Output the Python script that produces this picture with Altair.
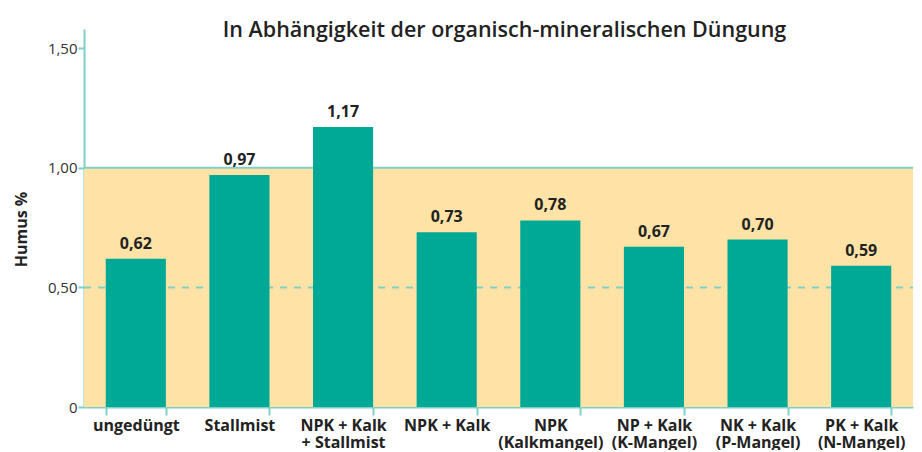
import altair as alt
import pandas as pd

categories = ["ungedüngt", "Stallmist", "NPK + Kalk|+ Stallmist", "NPK + Kalk",
              "NPK|(Kalkmangel)", "NP + Kalk|(K-Mangel)", "NK + Kalk|(P-Mangel)",
              "PK + Kalk|(N-Mangel)"]
values = [0.62, 0.97, 1.17, 0.73, 0.78, 0.67, 0.70, 0.59]
band_low = [0.0]
band_high = [1.0]
dashed_level = [0.5]
y_ticks = [0, 0.5, 1.0, 1.5]
y_max = 1.58

W = 829
H = 378
TEAL = "#00A896"
LINE = "#7ECFC6"
SHADE = "#FEE2A6"
FONT = "Open Sans"

df = pd.DataFrame({"cat": categories, "v": values})
band_df = pd.DataFrame({"v": band_low, "v2": band_high})
top_df = pd.DataFrame({"v": band_high})
dash_df = pd.DataFrame({"v": dashed_level})

yscale = alt.Scale(domain=[0, y_max], nice=False)

shade = alt.Chart(band_df).mark_rect(color=SHADE).encode(
    y=alt.Y("v:Q", scale=yscale, title="Humus %"),
    y2="v2:Q",
    x=alt.value(0),
    x2=alt.value(W),
)

top_line = alt.Chart(top_df).mark_rule(color=LINE, strokeWidth=2).encode(
    y=alt.Y("v:Q", scale=yscale, title="Humus %"),
    x=alt.value(0),
    x2=alt.value(W),
)

dash_line = alt.Chart(dash_df).mark_rule(color=LINE, strokeWidth=2, strokeDash=[7, 7]).encode(
    y=alt.Y("v:Q", scale=yscale, title="Humus %"),
    x=alt.value(0),
    x2=alt.value(W),
)

xenc = alt.X(
    "cat:N",
    sort=None,
    title=None,
    scale=alt.Scale(paddingInner=0.42, paddingOuter=0.21),
    axis=alt.Axis(
        labelExpr="split(datum.label, '|')",
        labelAngle=0,
        tickBand="extent",
        domainColor=LINE,
        domainWidth=2,
        tickColor=LINE,
        tickWidth=2,
        tickSize=8,
        labelFont=FONT,
        labelFontWeight="bold",
        labelFontSize=16,
        labelColor="#222222",
        labelLineHeight=17,
        labelPadding=2,
    ),
)

bars = alt.Chart(df).mark_bar(color=TEAL).encode(
    x=xenc,
    y=alt.Y(
        "v:Q",
        scale=yscale,
        title="Humus %",
        axis=alt.Axis(
            values=y_ticks,
            labelExpr="datum.value == 0 ? '0' : replace(format(datum.value, '.2f'), '.', ',')",
            grid=False,
            domainColor=LINE,
            domainWidth=2,
            tickColor=LINE,
            tickWidth=2,
            tickSize=6,
            labelFont=FONT,
            labelFontSize=15,
            labelColor="#333333",
            labelPadding=1,
            titleFont=FONT,
            titleFontSize=16,
            titleFontWeight="bold",
            titleColor="#222222",
            titlePadding=18,
            titleY=200,
        ),
    ),
)

labels = alt.Chart(df).transform_calculate(
    lab="replace(format(datum.v, '.2f'), '.', ',')"
).mark_text(
    font=FONT, fontSize=16, fontWeight="bold", color="#222222", baseline="alphabetic", dy=-10
).encode(
    x=alt.X("cat:N", sort=None),
    y=alt.Y("v:Q", scale=yscale, title="Humus %"),
    text="lab:N",
)

chart = alt.layer(shade, top_line, dash_line, bars, labels).properties(
    width=W,
    height=H,
    padding={"left": 5, "top": 11, "right": 0, "bottom": 0},
    title=alt.TitleParams(
        "In Abhängigkeit der organisch-mineralischen Düngung",
        font=FONT,
        fontSize=21.5,
        fontWeight=600,
        color="#222222",
        anchor="middle",
        offset=-12,
        dx=6,
    ),
).configure_view(stroke=None)

chart.save("out.html", embed_options={"renderer": "svg", "actions": False})
